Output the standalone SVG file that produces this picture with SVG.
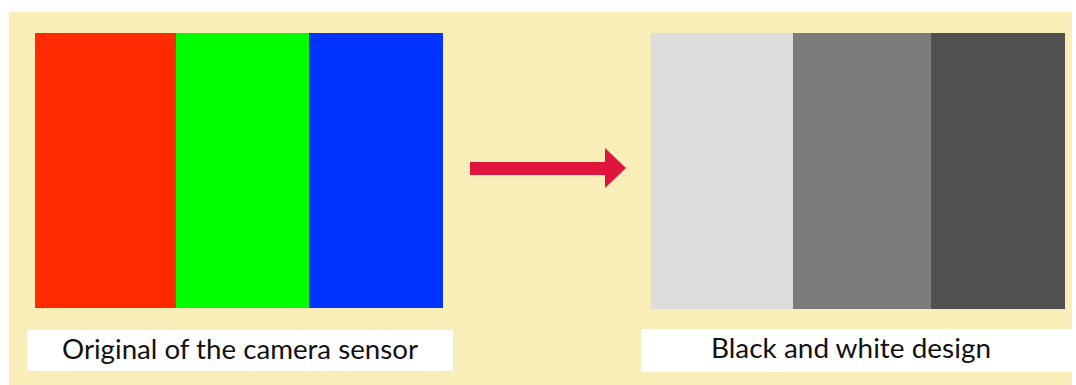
<svg xmlns="http://www.w3.org/2000/svg" width="1076" height="385" viewBox="0 0 1076 385">
<style>
.lbl{fill:#ffffff}
.t{font-family:Lato,"Open Sans","Liberation Sans",sans-serif;font-size:27px;fill:#111111;text-anchor:middle}
</style>
<rect x="0" y="0" width="1076" height="385" fill="#ffffff"/>
<rect x="9" y="12" width="1063" height="373" fill="#FAEEB8"/>
<g id="original">
<rect x="35" y="33" width="141" height="275" fill="#FF2A00"/>
<rect x="176" y="33" width="133" height="275" fill="#00FF00"/>
<rect x="309" y="33" width="134" height="275" fill="#0033FF"/>
<rect class="lbl" x="27" y="330" width="426" height="41"/>
<text class="t" x="240" y="359" textLength="356" lengthAdjust="spacingAndGlyphs">Original of the camera sensor</text>
</g>
<g id="bw">
<rect x="651" y="33" width="142" height="276" fill="#DCDCDC"/>
<rect x="793" y="33" width="138" height="276" fill="#7C7C7C"/>
<rect x="931" y="33" width="134" height="276" fill="#505050"/>
<rect class="lbl" x="641" y="329" width="431" height="43"/>
<text class="t" x="851" y="358" textLength="280" lengthAdjust="spacingAndGlyphs">Black and white design</text>
</g>
<g id="connectors">
<polygon points="470,162 605,162 605,148 626,168 605,188 605,175 470,175" fill="#E0143C"/>
</g>
</svg>
